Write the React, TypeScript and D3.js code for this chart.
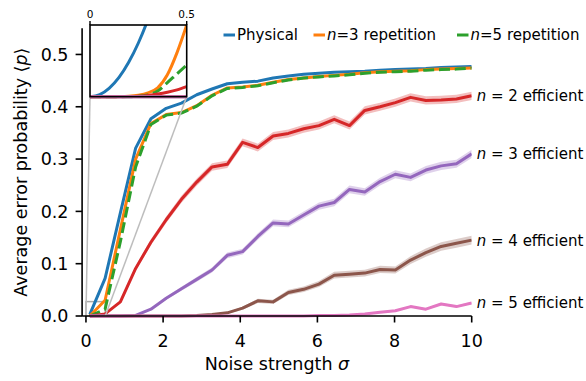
import React from "react";
import * as d3 from "d3";

// ---- data ----
const sigma = [0.1, 0.496, 0.892, 1.288, 1.684, 2.08, 2.476, 2.872, 3.268, 3.664, 4.06, 4.456, 4.852, 5.248, 5.644, 6.04, 6.436, 6.832, 7.228, 7.624, 8.02, 8.416, 8.812, 9.208, 9.604, 10];
const physical = [0.003, 0.072, 0.197, 0.321, 0.377, 0.397, 0.407, 0.423, 0.434, 0.444, 0.447, 0.449, 0.455, 0.459, 0.462, 0.464, 0.466, 0.467, 0.468, 0.470, 0.471, 0.472, 0.473, 0.475, 0.476, 0.477];
const rep3 = [0.0, 0.03, 0.165, 0.30, 0.368, 0.385, 0.389, 0.402, 0.422, 0.436, 0.438, 0.441, 0.447, 0.452, 0.455, 0.458, 0.460, 0.462, 0.465, 0.467, 0.468, 0.469, 0.471, 0.472, 0.473, 0.474];
const rep5 = [0.0, 0.013, 0.142, 0.285, 0.366, 0.384, 0.388, 0.401, 0.421, 0.435, 0.437, 0.440, 0.446, 0.451, 0.455, 0.457, 0.459, 0.461, 0.464, 0.466, 0.467, 0.468, 0.470, 0.471, 0.472, 0.474];
const eff2 = [0.0, 0.004, 0.027, 0.091, 0.141, 0.184, 0.223, 0.256, 0.285, 0.290, 0.332, 0.322, 0.344, 0.349, 0.358, 0.364, 0.376, 0.364, 0.393, 0.400, 0.408, 0.418, 0.412, 0.413, 0.415, 0.421];
const eff3 = [0, 0, 0, 0.001, 0.013, 0.034, 0.052, 0.070, 0.088, 0.116, 0.123, 0.152, 0.178, 0.176, 0.193, 0.210, 0.217, 0.242, 0.237, 0.257, 0.271, 0.265, 0.279, 0.287, 0.291, 0.310];
const eff4 = [0, 0, 0, 0, 0, 0, 0, 0.001, 0.003, 0.006, 0.015, 0.029, 0.027, 0.045, 0.051, 0.061, 0.078, 0.080, 0.082, 0.089, 0.088, 0.107, 0.121, 0.133, 0.139, 0.145];
const eff5 = [0, 0, 0, 0, 0, 0, 0, 0, 0, 0, 0, 0, 0, 0, 0, 0.001, 0.001, 0.002, 0.004, 0.007, 0.010, 0.018, 0.013, 0.023, 0.018, 0.025];
// relative spread (std-error scale) of the shaded bands
const spread2 = 0.016;
const spread3 = 0.017;
const spread4 = 0.024;
const spread5 = 0.014;

// inset (zoom on sigma in [0, 0.5])
const sigmaIn = [0, 0.05, 0.1, 0.15, 0.2, 0.25, 0.3, 0.35, 0.4, 0.45, 0.5];
const physicalIn = [0, 0.0008, 0.0033, 0.0074, 0.0132, 0.0206, 0.0297, 0.0407, 0.053, 0.067, 0.083];
const rep3In = [0, 0, 0, 0.00003, 0.00014, 0.00055, 0.0015, 0.0034, 0.0084, 0.0169, 0.0275];
const rep5In = [0, 0, 0, 0, 0, 0.00014, 0.0007, 0.0022, 0.0054, 0.0088, 0.0121];
const eff2In = [0, 0, 0, 0, 0.00008, 0.00022, 0.0005, 0.001, 0.0017, 0.0026, 0.0039];
const zeroIn = [0, 0, 0, 0, 0, 0, 0, 0, 0, 0, 0];

const xTicks = [0, 2, 4, 6, 8, 10];
const yTicks = [0, 0.1, 0.2, 0.3, 0.4, 0.5];
const insetXTicks = [0, 0.5];
const insetYMax = 0.0275;

const C = {
  blue: "#1f77b4",
  orange: "#ff7f0e",
  green: "#2ca02c",
  red: "#d62728",
  purple: "#9467bd",
  brown: "#8c564b",
  pink: "#e377c2",
};

const FONT = "'DejaVu Sans', sans-serif";

export default function App() {
  const x = d3.scaleLinear().domain([-0.1, 10]).range([82.1, 471.7]);
  const y = d3.scaleLinear().domain([0, 0.55]).range([316, 28.3]);
  const xi = d3.scaleLinear().domain([0, 0.5]).range([90, 186.7]);
  const yi = d3.scaleLinear().domain([0, insetYMax]).range([96.7, 25]);

  const mainLine = (vals: number[]) =>
    d3.line<number>().x((_, i) => x(sigma[i])).y((d) => y(d))(vals) || "";
  const band = (vals: number[], k: number) =>
    d3
      .area<number>()
      .x((_, i) => x(sigma[i]))
      .y0((d) => y(Math.max(0, d - k * Math.sqrt(d * (1 - d)))))
      .y1((d) => y(d + k * Math.sqrt(d * (1 - d))))(vals) || "";
  const insetLine = (vals: number[]) =>
    d3
      .line<number>()
      .x((_, i) => xi(sigmaIn[i]))
      .y((d) => yi(d))
      .curve(d3.curveMonotoneX)(vals) || "";

  const lw = 3;
  const dash = "11 4.8";
  const effSeries = [
    { vals: eff2, k: spread2, color: C.red, label: "2" },
    { vals: eff3, k: spread3, color: C.purple, label: "3" },
    { vals: eff4, k: spread4, color: C.brown, label: "4" },
    { vals: eff5, k: spread5, color: C.pink, label: "5" },
  ];

  const x0 = x(-0.1);
  const x1 = x(10);
  const yb = y(0);
  const yt = y(0.55);

  return (
    <svg
      width={586}
      height={381}
      style={{ position: "absolute", left: 0, top: 0, background: "#fff" }}
      fontFamily={FONT}
    >
      <defs>
        <clipPath id="mainclip">
          <rect x={x0} y={yt} width={x1 - x0} height={yb - yt + 4} />
        </clipPath>
        <clipPath id="insetclip">
          <rect x={xi(0)} y={yi(insetYMax)} width={xi(0.5) - xi(0)} height={yi(0) - yi(insetYMax) + 2} />
        </clipPath>
      </defs>

      {/* zoom rectangle */}
      <rect
        x={x(0)}
        y={y(insetYMax)}
        width={x(0.5) - x(0)}
        height={y(0) - y(insetYMax)}
        fill="none"
        stroke="#aaaaaa"
        strokeWidth={1.5}
      />

      {/* main lines */}
      <g clipPath="url(#mainclip)">
        <path d={mainLine(physical)} fill="none" stroke={C.blue} strokeWidth={lw} strokeLinejoin="round" />
        <path d={mainLine(rep3)} fill="none" stroke={C.orange} strokeWidth={lw} strokeLinejoin="round" />
        <path d={mainLine(rep5)} fill="none" stroke={C.green} strokeWidth={lw} strokeDasharray={dash} />
        {effSeries.map((s) => (
          <g key={s.label}>
            <path d={band(s.vals, s.k)} fill={s.color} fillOpacity={0.3} stroke="none" />
            <path d={mainLine(s.vals)} fill="none" stroke={s.color} strokeWidth={lw} strokeLinejoin="round" />
          </g>
        ))}
      </g>

      {/* connectors */}
      <line x1={x(0)} y1={y(0)} x2={xi(0)} y2={yi(0)} stroke="#bdbdbd" strokeWidth={1.5} />
      <line x1={x(0.5)} y1={y(0)} x2={xi(0.5)} y2={yi(0)} stroke="#bdbdbd" strokeWidth={1.5} />

      {/* axes spines */}
      <line x1={x0} y1={yb} x2={x1} y2={yb} stroke="#000" strokeWidth={1.6} />
      <line x1={x0} y1={yb} x2={x0} y2={yt} stroke="#000" strokeWidth={1.6} />
      {xTicks.map((t) => (
        <g key={"xt" + t}>
          <line x1={x(t)} x2={x(t)} y1={yb} y2={yb + 6.5} stroke="#000" strokeWidth={1.6} />
          <text x={x(t)} y={yb + 31} textAnchor="middle" fontSize={17.5} fill="#000">
            {String(t)}
          </text>
        </g>
      ))}
      {yTicks.map((t) => (
        <g key={"yt" + t}>
          <line x1={x0 - 6.5} x2={x0} y1={y(t)} y2={y(t)} stroke="#000" strokeWidth={1.6} />
          <text x={68.5} y={y(t) + 6.3} textAnchor="end" fontSize={17.5} fill="#000">
            {t.toFixed(1)}
          </text>
        </g>
      ))}

      {/* axis labels */}
      <text x={(x0 + x1) / 2} y={370} textAnchor="middle" fontSize={17.5} fill="#000">
        Noise strength <tspan fontStyle="italic">σ</tspan>
      </text>
      <text
        transform={`translate(27, ${(yb + yt) / 2}) rotate(-90)`}
        textAnchor="middle"
        fontSize={17.5}
        fill="#000"
      >
        Average error probability ⟨<tspan fontStyle="italic">p</tspan>⟩
      </text>

      {/* right labels */}
      {effSeries.map((s) => (
        <text
          key={"lab" + s.label}
          x={x(10) + 5}
          y={y(s.vals[s.vals.length - 1]) + 5.5}
          fontSize={15}
          fill="#000"
        >
          <tspan fontStyle="italic">n</tspan> = {s.label} efficient
        </text>
      ))}

      {/* legend */}
      {[
        { color: C.blue, x: 223.5, parts: null as null | string, text: "Physical" },
        { color: C.orange, x: 313.5, parts: "3", text: " repetition" },
        { color: C.green, x: 457, parts: "5", text: " repetition" },
      ].map((l, i) => (
        <g key={"leg" + i}>
          <line x1={l.x} x2={l.x + 11.5} y1={35} y2={35} stroke={l.color} strokeWidth={3} />
          <text x={l.x + 13.5} y={40.3} fontSize={15} fill="#000">
            {l.parts === null ? (
              l.text
            ) : (
              <>
                <tspan fontStyle="italic">n</tspan>
                {"=" + l.parts + l.text}
              </>
            )}
          </text>
        </g>
      ))}

      {/* inset */}
      <rect x={xi(0)} y={yi(insetYMax)} width={xi(0.5) - xi(0)} height={yi(0) - yi(insetYMax)} fill="#fff" />
      <g clipPath="url(#insetclip)">
        <path d={insetLine(physicalIn)} fill="none" stroke={C.blue} strokeWidth={lw} />
        <path d={insetLine(rep3In)} fill="none" stroke={C.orange} strokeWidth={lw} />
        <path d={insetLine(rep5In)} fill="none" stroke={C.green} strokeWidth={lw} strokeDasharray={dash} />
        <path d={insetLine(eff2In)} fill="none" stroke={C.red} strokeWidth={lw} />
        <path d={insetLine(zeroIn)} fill="none" stroke={C.purple} strokeWidth={lw} />
        <path d={insetLine(zeroIn)} fill="none" stroke={C.brown} strokeWidth={lw} />
        <path d={insetLine(zeroIn)} fill="none" stroke={C.pink} strokeWidth={lw} />
      </g>
      <rect
        x={xi(0)}
        y={yi(insetYMax)}
        width={xi(0.5) - xi(0)}
        height={yi(0) - yi(insetYMax)}
        fill="none"
        stroke="#000"
        strokeWidth={1.6}
      />
      {insetXTicks.map((t) => (
        <g key={"ixt" + t}>
          <line x1={xi(t)} x2={xi(t)} y1={yi(insetYMax)} y2={yi(insetYMax) - 4} stroke="#000" strokeWidth={1.4} />
          <text x={xi(t)} y={yi(insetYMax) - 7} textAnchor="middle" fontSize={10.5} fill="#000">
            {String(t)}
          </text>
        </g>
      ))}
    </svg>
  );
}
